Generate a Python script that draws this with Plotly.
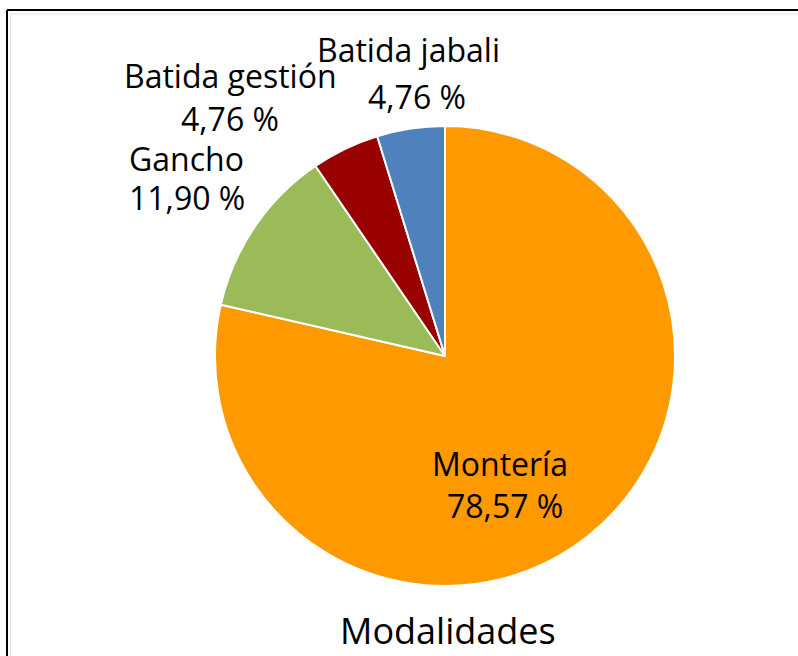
import plotly.graph_objects as go

labels = ["Montería", "Gancho", "Batida gestión", "Batida jabali"]
values = [78.57, 11.90, 4.76, 4.76]
colors = ["#FF9900", "#9BBB59", "#990000", "#4F81BD"]
title = "Modalidades"

W, H = 798, 656


def px(x):
    return x / W


def py(y):
    return 1 - y / H


cx, cy, r = 445, 356, 230

fig = go.Figure(go.Pie(
    labels=labels, values=values, sort=False, direction="clockwise", rotation=0,
    marker=dict(colors=colors, line=dict(color="white", width=2)),
    textinfo="none", hoverinfo="label+percent", showlegend=False,
    domain=dict(x=[px(cx - r), px(cx + r)], y=[py(cy + r), py(cy - r)]),
))

# label positions (pixel centres) for name line and value line
name_pos = [(500, 463), (186, 158), (230, 75), (408, 50)]
val_pos = [(505, 505), (187, 198), (230, 118), (417, 96)]
font = dict(family="Open Sans, sans-serif", size=32, color="black")
ann = []
for lab, v, (nx, ny), (vx, vy) in zip(labels, values, name_pos, val_pos):
    ann.append(dict(text=lab, x=px(nx), y=py(ny), xref="paper", yref="paper",
                    showarrow=False, xanchor="center", yanchor="middle", font=font))
    ann.append(dict(text=f"{v:.2f} %".replace(".", ","), x=px(vx), y=py(vy),
                    xref="paper", yref="paper", showarrow=False,
                    xanchor="center", yanchor="middle", font=font))
ann.append(dict(text=title, x=px(448), y=py(630), xref="paper", yref="paper",
                showarrow=False, xanchor="center", yanchor="middle",
                font=dict(family="Open Sans, sans-serif", size=36, color="black")))

shapes = [
    dict(type="line", xref="paper", yref="paper", x0=px(7), x1=px(7), y0=0, y1=py(10),
         line=dict(color="black", width=2)),
    dict(type="line", xref="paper", yref="paper", x0=px(7), x1=1, y0=py(10), y1=py(10),
         line=dict(color="black", width=2)),
    dict(type="line", xref="paper", yref="paper", x0=px(10.5), x1=px(10.5), y0=0, y1=py(14),
         line=dict(color="#DCE6F2", width=1)),
    dict(type="line", xref="paper", yref="paper", x0=px(10.5), x1=1, y0=py(14), y1=py(14),
         line=dict(color="#DCE6F2", width=1)),
]

fig.update_layout(width=W, height=H, margin=dict(l=0, r=0, t=0, b=0),
                  paper_bgcolor="white", plot_bgcolor="white",
                  annotations=ann, shapes=shapes)
fig.write_html("out.html", config={"displayModeBar": False},
               post_script="document.body.style.margin='0';document.body.style.overflow='hidden';")
